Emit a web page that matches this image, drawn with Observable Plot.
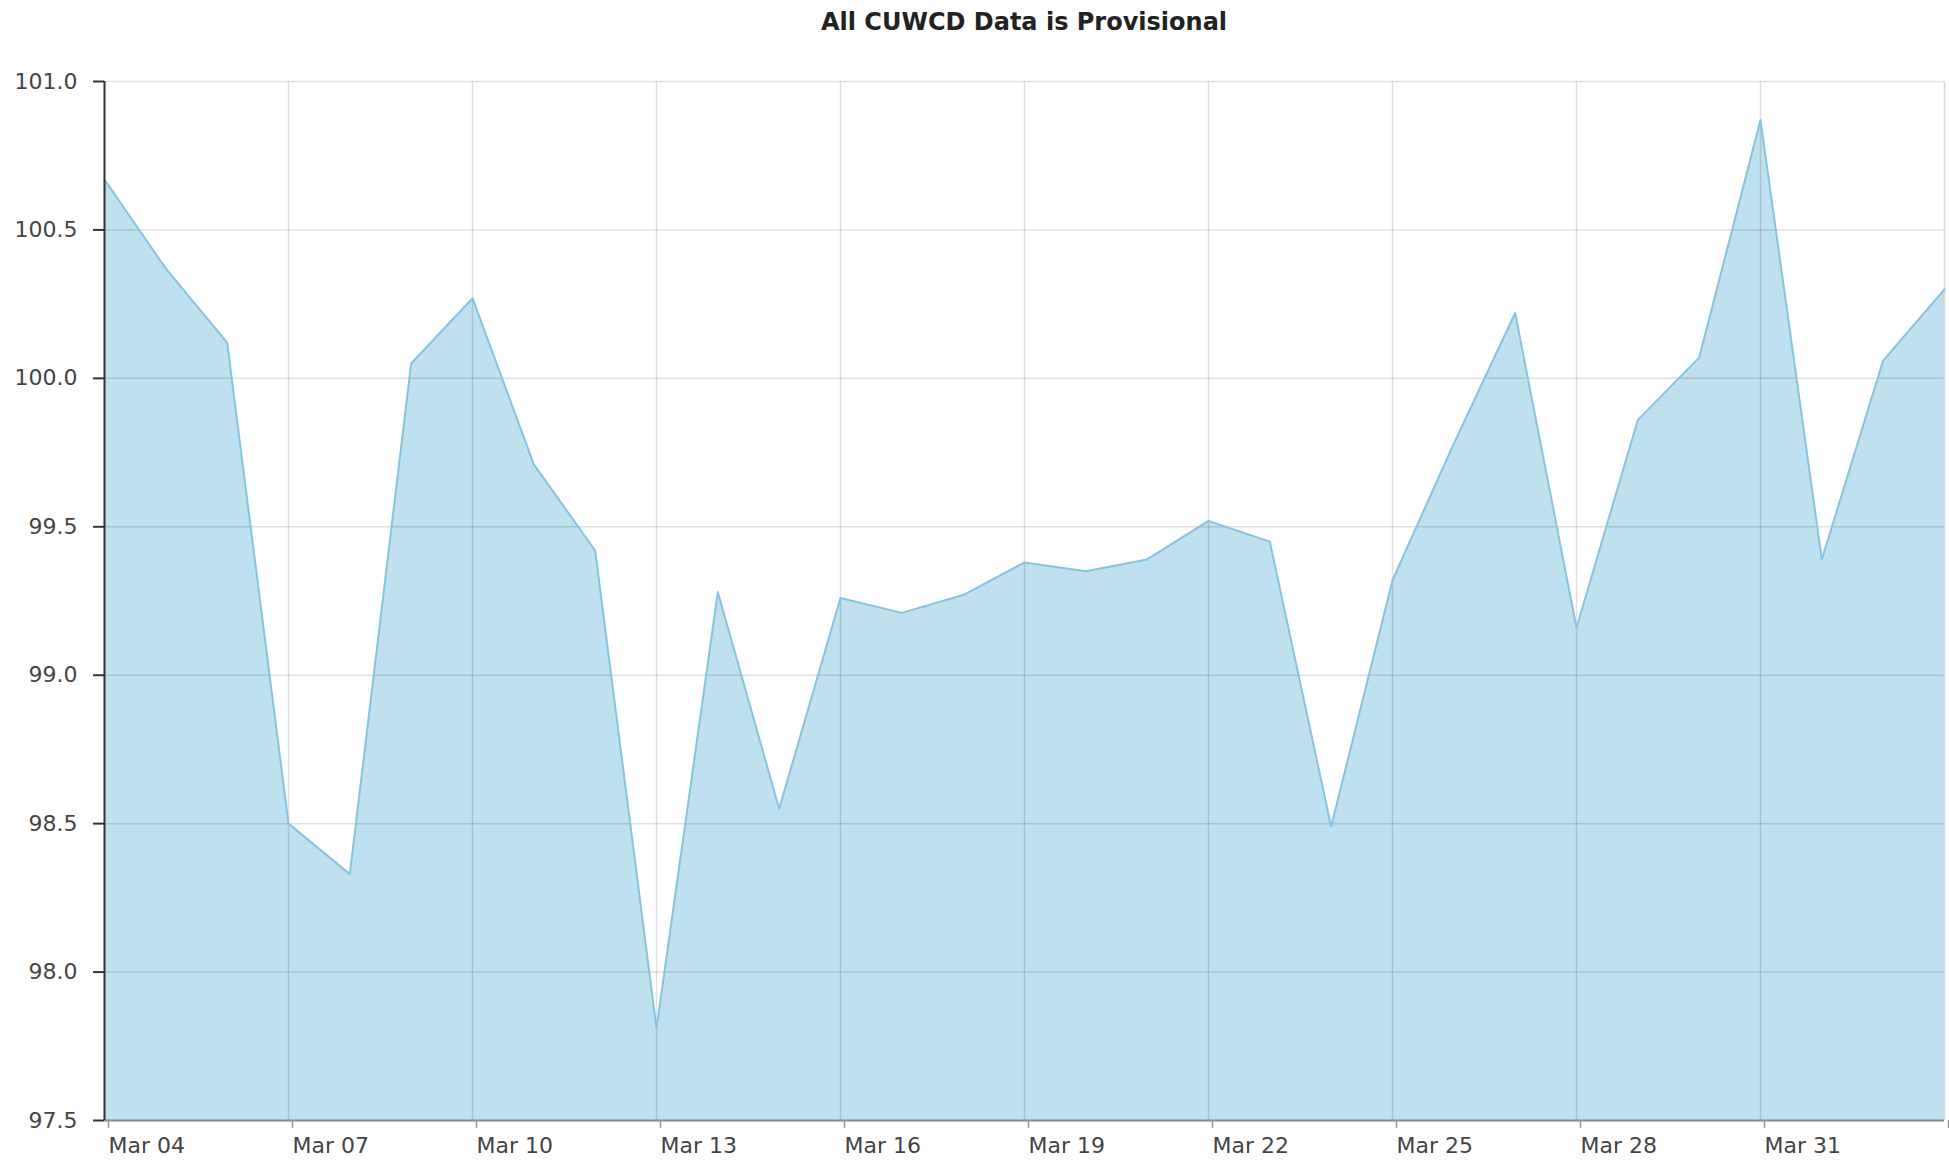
<!DOCTYPE html>
<html>
<head>
<meta charset="utf-8">
<script src="https://cdn.jsdelivr.net/npm/d3@7"></script>
<script src="https://cdn.jsdelivr.net/npm/@observablehq/plot@0.6"></script>
<style>
  html, body { margin: 0; padding: 0; background: #fff; }
  #title { height: 40px; line-height: 44px; padding-left: 104px; padding-right: 5px; text-align: center;
           font-family: "DejaVu Sans", Verdana, sans-serif; font-weight: bold; font-size: 24px; color: #222; }
</style>
</head>
<body>
<div id="title">All CUWCD Data is Provisional</div>
<div id="chart"></div>
<script>
const dates = [
  "2024-03-04","2024-03-05","2024-03-06","2024-03-07","2024-03-08","2024-03-09","2024-03-10",
  "2024-03-11","2024-03-12","2024-03-13","2024-03-14","2024-03-15","2024-03-16","2024-03-17",
  "2024-03-18","2024-03-19","2024-03-20","2024-03-21","2024-03-22","2024-03-23","2024-03-24",
  "2024-03-25","2024-03-26","2024-03-27","2024-03-28","2024-03-29","2024-03-30","2024-03-31",
  "2024-04-01","2024-04-02","2024-04-03"
];
const values = [
  100.67, 100.37, 100.12, 98.50, 98.33, 100.05, 100.27,
  99.71, 99.42, 97.81, 99.28, 98.55, 99.26, 99.21,
  99.27, 99.38, 99.35, 99.39, 99.52, 99.45, 98.49,
  99.32, 99.78, 100.22, 99.16, 99.86, 100.07, 100.87,
  99.39, 100.06, 100.30
];
const xTickDates = ["2024-03-04","2024-03-07","2024-03-10","2024-03-13","2024-03-16","2024-03-19",
  "2024-03-22","2024-03-25","2024-03-28","2024-03-31","2024-04-03"];
const xTickLabels = ["Mar 04","Mar 07","Mar 10","Mar 13","Mar 16","Mar 19","Mar 22","Mar 25","Mar 28","Mar 31",""];
const yTicks = [97.5, 98.0, 98.5, 99.0, 99.5, 100.0, 100.5, 101.0];
const yDomain = [97.5, 101.0];

const data = dates.map((d, i) => ({date: new Date(d + "T00:00:00Z"), value: values[i]}));
const xTicks = xTickDates.map(d => new Date(d + "T00:00:00Z"));
const labelOf = new Map(xTicks.map((d, i) => [+d, xTickLabels[i]]));
const xDomain = [data[0].date, data[data.length - 1].date];

const chart = Plot.plot({
  width: 1949,
  height: 1124,
  marginLeft: 104,
  marginRight: 5,
  marginTop: 41,
  marginBottom: 44,
  style: {fontFamily: "DejaVu Sans, Verdana, sans-serif", fontSize: "22px", color: "#444", background: "#fff"},
  x: {type: "utc", domain: xDomain, label: null},
  y: {domain: yDomain, label: null},
  marks: [
    Plot.areaY(data, {x: "date", y1: yDomain[0], y2: "value", fill: "#bee0ef"}),
    Plot.ruleX(xTicks, {stroke: "#000", strokeOpacity: 0.12, strokeWidth: 1.5}),
    Plot.ruleY(yTicks, {stroke: "#000", strokeOpacity: 0.12, strokeWidth: 1.5}),
    Plot.ruleX([xDomain[1]], {stroke: "#ddd", strokeWidth: 1.5}),
    Plot.lineY(data, {x: "date", y: "value", stroke: "#86c4e1", strokeWidth: 2}),
    Plot.ruleY([yDomain[0]], {stroke: "#8a8a8a", strokeWidth: 2}),
    Plot.ruleX([xDomain[0]], {stroke: "#333", strokeWidth: 2}),
    Plot.axisY({ticks: yTicks, tickFormat: d3.format(".1f"), tickSize: 11, tickPadding: 16, label: null,
      stroke: "#333", strokeWidth: 2, fill: "#444"}),
    Plot.axisX({ticks: xTicks, tickFormat: d => labelOf.get(+d), tickSize: 8, tickPadding: 9, label: null,
      textAnchor: "start", dx: 4, stroke: "#999", strokeWidth: 1.5, fill: "#444"})
  ]
});
document.getElementById("chart").appendChild(chart);
</script>
</body>
</html>
